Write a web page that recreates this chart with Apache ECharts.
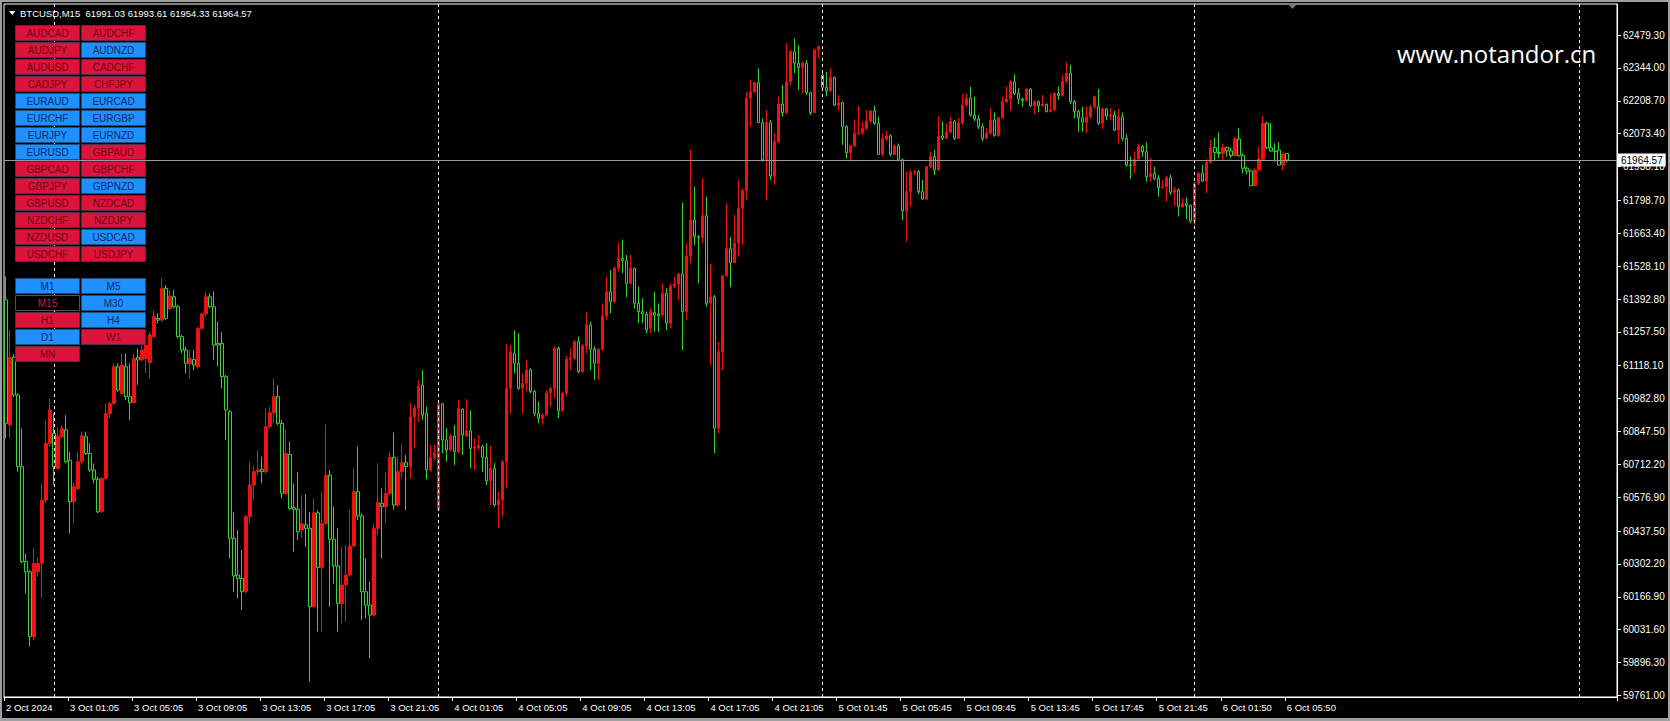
<!DOCTYPE html>
<html>
<head>
<meta charset="utf-8">
<script src="https://cdn.jsdelivr.net/npm/echarts@6/dist/echarts.min.js"></script>
<style>
html,body{margin:0;padding:0;background:#000;}
#chart{width:1670px;height:721px;}
</style>
</head>
<body>
<div id="chart"></div>
<script>
// ---- DATA ----
const symbolTitle = 'BTCUSD,M15  61991.03 61993.61 61954.33 61964.57';
const lastPrice = 61964.57;
// candles: [open, close, low, high], M15 bars
const ohlc = [
[61389,60881,60819,61485],[60874,61153,60819,61265],[61153,60998,60990,61165],[60998,60703,60682,61005],
[60703,60312,60305,60860],[60312,60270,60181,60346],[60270,60003,59962,60277],[60003,60305,59989,60367],
[60270,60305,60250,60332],[60305,60565,60161,60634],[60565,60799,60552,60895],[60799,60936,60785,60984],
[60840,60703,60627,60922],[60696,60829,60689,60867],[60826,60860,60819,60874],[60854,60723,60716,60915],
[60730,60559,60428,60764],[60559,60620,60469,60634],[60613,60723,60607,60764],[60723,60830,60710,60847],
[60826,60757,60751,60847],[60757,60689,60682,60799],[60689,60651,60634,60716],[60651,60517,60511,60661],
[60517,60655,60513,60661],[60655,60922,60648,60963],[60922,60963,60902,60970],[60963,61114,60956,61128],
[61114,61018,61011,61128],[61004,61121,60998,61169],[61114,60991,60977,61169],[60991,60966,60895,61128],
[60966,61148,60963,61169],[61153,61142,61039,61190],[61142,61183,61135,61203],[61148,61203,61087,61245],
[61131,61245,61066,61258],[61238,61320,61231,61347],[61313,61306,61293,61334],[61306,61437,61299,61478],
[61437,61313,61306,61450],[61354,61405,61347,61430],[61402,61361,61354,61430],[61361,61238,61231,61368],
[61238,61183,61169,61245],[61183,61128,61087,61197],[61128,61148,61066,61183],[61144,61121,61100,61183],
[61114,61272,61107,61279],[61272,61331,61265,61336],[61331,61402,61320,61423],[61402,61361,61354,61416],
[61361,61203,61142,61423],
[61210,61203,61114,61299],[61210,61073,61025,61258],[61073,60936,60812,61080],[60929,60408,60325,60936],
[60408,60253,60188,60517],[60257,60243,60161,60442],[60243,60188,60113,60360],[60188,60497,60181,60504],
[60497,60627,60469,60723],[60627,60682,60565,60709],[60682,60689,60668,60771],[60692,60682,60634,60744],
[60682,60867,60675,60943],[60867,60925,60860,60950],[60925,60991,60881,61066],[60991,60881,60874,61039],
[60881,60593,60572,60895],[60593,60757,60586,60854],[60753,60531,60524,60806],[60534,60527,60353,60634],
[60527,60435,60401,60682],[60442,60467,60408,60586],[60463,60449,60373,60590],[60449,60126,59818,60517],
[60126,60513,60120,60572],[60513,60288,60024,60524],[60288,60469,60024,60600],[60469,60668,60463,60878],
[60668,60404,60126,60689],[60404,60294,60222,60538],[60294,60140,60024,60449],[60140,60216,60058,60373],
[60216,60257,60065,60380],[60257,60376,60250,60524],[60376,60600,60373,60696],[60600,60500,60483,60785],
[60500,60188,60072,60511],[60188,60133,60078,60325],[60133,60092,59914,60229],[60092,60449,60085,60469],
[60449,60556,60421,60716],[60552,60538,60325,60613],[60538,60593,60469,60682],[60593,60741,60586,60764],
[60741,60545,60527,60843],[60545,60682,60538,60744],[60682,60719,60655,60799],[60719,60703,60524,60751],
[60703,60908,60655,60963],[60908,60943,60778,60956],[60943,61035,60888,61059],[61039,60915,60895,61100],
[60922,60689,60651,60950],[60689,60741,60682,60792],[60741,60758,60730,60792],
[60525,60961,60520,60964],[60961,60813,60758,60964],[60813,60771,60723,60861],[60771,60829,60765,60837],
[60829,60765,60710,60874],[60765,60943,60758,60977],[60939,60833,60751,60943],[60829,60850,60824,60980],
[60850,60778,60696,60933],[60778,60785,60689,60819],[60780,60790,60770,60833],[60785,60741,60682,60792],
[60741,60645,60627,60799],[60645,60696,60545,60788],[60696,60545,60538,60717],[60545,60566,60449,60600],
[60566,60723,60497,60730],[60723,61025,60614,61208],[61025,61176,60922,61204],[61169,61128,61087,61265],
[61128,61025,61018,61252],[61025,61046,60922,61087],[61046,61101,61012,61142],[61101,61012,61005,61108],
[61012,60922,60909,61018],[60922,60902,60881,60970],[60902,60915,60874,60922],[60915,61007,60909,61018],
[61007,61025,60950,61032],[61025,61190,60984,61197],[61190,60933,60902,61197],[60933,61005,60929,61012],
[61005,61145,60991,61158],[61145,61149,61101,61190],[61149,61217,61142,61224],[61217,61094,61087,61238],
[61094,61199,61087,61208],[61199,61286,61169,61337],[61286,61186,61101,61300],[61186,61128,61060,61197],
[61128,61186,61060,61190],[61186,61323,61180,61375],[61323,61423,61306,61485],[61423,61382,61334,61512],
[61382,61519,61375,61526],[61519,61560,61505,61625],[61560,61551,61499,61638],[61551,61457,61400,61574],
[61457,61519,61455,61574],[61519,61375,61354,61522],[61375,61341,61293,61444],[61341,61331,61293,61396],
[61331,61265,61252,61341],[61272,61341,61252,61354],
[61337,61327,61258,61423],[61331,61324,61258,61375],[61327,61416,61320,61457],[61416,61293,61265,61437],
[61293,61446,61272,61457],[61446,61455,61437,61485],[61455,61496,61389,61499],[61496,61341,61183,61789],
[61341,61570,61307,61622],[61570,61718,61540,62006],[61718,61649,61615,61855],[61649,61647,61457,61656],
[61647,61735,61622,61890],[61735,61375,61361,61814],[61375,61402,61121,61540],[61402,60861,60758,61409],
[60861,61176,60840,61217],[61176,61488,61101,61492],[61488,61601,61485,61787],[61601,61542,61441,61649],
[61542,61622,61540,61739],[61622,61766,61567,61883],[61766,61839,61615,61848],[61839,62219,61800,62246],
[62219,62246,62102,62294],[62246,62283,62239,62287],[62283,62119,62116,62342],[62119,61965,61958,62136],
[61965,62119,61800,62171],[62119,61899,61883,62130],[61899,62040,61862,62075],[62040,62195,62034,62226],
[62195,62160,62143,62274],[62160,62287,62154,62445],[62287,62411,62274,62418],[62411,62363,62322,62466],
[62363,62346,62253,62438],[62346,62363,62239,62370],[62363,62242,62232,62376],[62242,62160,62150,62246],
[62160,62418,62157,62424],[62418,62431,62383,62434],
[62315,62264,62256,62335],[62264,62250,62226,62328],[62250,62305,62246,62342],[62305,62191,62187,62308],
[62191,62201,62171,62232],[62201,62102,62027,62205],[62102,61995,61972,62109],[61995,62023,61958,62027],
[62023,62075,62017,62130],[62075,62077,62068,62187],[62077,62095,62068,62123],
[62095,62125,62088,62171],[62125,62167,62116,62171],[62167,62116,62109,62189],[62116,61988,61985,62143],
[61988,62051,61979,62075],[62051,62064,62043,62084],[62064,61988,61979,62071],[61988,62024,61985,62029],
[62024,61965,61961,62033],[61965,61755,61718,61972],[61755,61835,61629,61917],[61835,61914,61773,61924],
[61914,61917,61903,61924],[61917,61835,61824,61924],[61835,61804,61800,61883],[61804,61937,61800,61940],
[61937,61979,61931,61999],[61979,61924,61903,62006],[61924,62064,61920,62146],[62064,62054,62047,62123],
[62054,62079,62051,62116],[62079,62123,62075,62143],[62123,62054,62047,62130],[62054,62116,62051,62137],
[62116,62191,62109,62235],[62191,62219,62184,62239],[62219,62150,62143,62267],[62150,62134,62125,62226],
[62134,62102,62092,62150],[62102,62054,62043,62116],[62054,62075,62051,62095],[62075,62130,62068,62178],
[62130,62065,62061,62161],[62065,62139,62061,62143],[62139,62205,62134,62226],[62205,62216,62198,62267],
[62216,62287,62167,62294],[62287,62239,62232,62317],[62239,62216,62194,62260],[62216,62209,62184,62221],
[62209,62257,62205,62260],[62257,62188,62184,62260],[62188,62205,62153,62212],[62205,62188,62161,62210],
[62188,62194,62184,62232],[62194,62164,62161,62198],[62164,62171,62161,62239],[62171,62239,62167,62243],
[62239,62230,62212,62267],[62230,62290,62226,62315],[62290,62322,62280,62367],[62322,62205,62194,62356],
[62205,62164,62136,62212],[62164,62139,62081,62171],
[62139,62120,62081,62184],[62120,62143,62075,62184],[62143,62184,62134,62191],[62184,62226,62175,62230],
[62184,62116,62109,62257],[62116,62175,62092,62180],[62175,62146,62130,62178],[62146,62150,62130,62178],
[62150,62088,62084,62167],[62088,62143,62033,62175],[62143,62054,62043,62161],[62054,61944,61937,62071],
[61944,61942,61887,61979],[61942,61969,61910,62002],[61969,62020,61961,62033],[62020,61999,61979,62027],
[61999,61896,61876,62038],[61896,61910,61876,61974],[61910,61889,61883,61937],[61889,61851,61814,61903],
[61851,61855,61846,61883],[61855,61892,61793,61900],[61892,61832,61821,61906],[61832,61841,61773,61855],
[61841,61773,61732,61848],[61773,61787,61766,61807],[61787,61777,61722,61810],[61777,61714,61704,61782],
[61714,61869,61697,61876],[61869,61910,61862,61917],[61910,61878,61876,61944],[61878,61955,61828,61969],
[61955,62016,61951,62047],[62016,61996,61965,62057],[61996,61992,61972,62079],[61992,62016,61961,62033],
[62016,62002,61979,62020],[62002,61983,61974,62016],[61983,62051,61979,62061],[62051,61983,61979,62095],
[61983,61931,61910,61992],[61931,61920,61906,61937],[61920,61859,61859,61924],[61859,61924,61859,61931],
[61924,61969,61920,62020],[61969,62116,61961,62146],[62116,62016,62010,62123],[62016,62002,61999,62116],
[62002,61999,61958,62033],[62006,61944,61942,62038],[61944,61988,61924,61996],
[61991.03,61964.57,61954.33,61993.61]
];
const totalSlots = 403;            // bar slots visible across the plot (incl. empty right margin)
const xTickStep = 16;              // a time label every 16 bars
const xTickLabels = ['2 Oct 2024','3 Oct 01:05','3 Oct 05:05','3 Oct 09:05','3 Oct 13:05','3 Oct 17:05',
  '3 Oct 21:05','4 Oct 01:05','4 Oct 05:05','4 Oct 09:05','4 Oct 13:05','4 Oct 17:05','4 Oct 21:05',
  '5 Oct 01:45','5 Oct 05:45','5 Oct 09:45','5 Oct 13:45','5 Oct 17:45','5 Oct 21:45','6 Oct 01:50','6 Oct 05:50'];
const daySeparators = [12, 108, 204, 297, 393];   // bar indexes of the day separators
const yTicks = [59761.00,59896.30,60031.60,60166.90,60302.20,60437.50,60576.90,60712.20,60847.50,60982.80,
  61118.10,61257.50,61392.80,61528.10,61663.40,61798.70,61938.10,62073.40,62208.70,62344.00,62479.30];
const yMin = 59754.8, yMax = 62606.9;
const pairButtons = [
  ['AUDCAD','r'],['AUDCHF','r'],['AUDJPY','r'],['AUDNZD','b'],['AUDUSD','r'],['CADCHF','r'],
  ['CADJPY','r'],['CHFJPY','r'],['EURAUD','b'],['EURCAD','b'],['EURCHF','b'],['EURGBP','b'],
  ['EURJPY','b'],['EURNZD','b'],['EURUSD','b'],['GBPAUD','r'],['GBPCAD','r'],['GBPCHF','r'],
  ['GBPJPY','r'],['GBPNZD','b'],['GBPUSD','r'],['NZDCAD','r'],['NZDCHF','r'],['NZDJPY','r'],
  ['NZDUSD','r'],['USDCAD','b'],['USDCHF','r'],['USDJPY','r']];
const tfButtons = [['M1','b'],['M5','b'],['M15','k'],['M30','b'],['H1','r'],['H4','b'],['D1','b'],['W1','r'],['MN','r']];
const watermark = 'www.notandor.cn';

// ---- BUILD ----
const cats = [];
for (let i = 0; i < totalSlots; i++) cats.push(String(i));
const FONT = '"Liberation Sans", Arial, sans-serif';
const btnStyles = {
  r: {fill:'#dc143c', stroke:'#5a2a4a', text:'#6e0616'},
  b: {fill:'#1e90ff', stroke:'#2a4a7a', text:'#0a2a66'},
  k: {fill:'#000000', stroke:'#50506a', text:'#dc143c'}
};
const graphics = [];
function addButtons(list, top) {
  list.forEach((b, i) => {
    const col = i % 2, row = Math.floor(i / 2);
    const st = btnStyles[b[1]];
    const bx = 15.5 + col*66, by = top + row*17 + 0.5;
    graphics.push({
      type:'rect', z:100,
      shape:{x: bx, y: by, width:64, height:15},
      style:{fill:st.fill, stroke:st.stroke, lineWidth:1}
    });
    graphics.push({
      type:'text', z:101, x: bx + 32, y: by + 8,
      style:{text:b[0], fill:st.text, font:'10px ' + FONT,
        align:'center', verticalAlign:'middle', textAlign:'center', textVerticalAlign:'middle'}
    });
  });
}
addButtons(pairButtons, 25);
addButtons(tfButtons, 278);
graphics.push({type:'polygon', z:100, shape:{points:[[9,11],[15.5,11],[12.25,15]]}, style:{fill:'#ffffff'}});
graphics.push({type:'text', z:100, x:20, y:8, style:{text:symbolTitle, fill:'#ffffff', font:'9.5px ' + FONT}});
graphics.push({type:'text', z:100, x:1397, y:41, style:{text:watermark, fill:'#ffffff', font:'24px "Open Sans", sans-serif'}});
graphics.push({type:'polygon', z:100, shape:{points:[[1288,4],[1297,4],[1292.5,9]]}, style:{fill:'#7a7a7a'}});
// window frame
graphics.push({type:'rect', z:200, shape:{x:0,y:0,width:1670,height:2}, style:{fill:'#a0a0a0'}});
graphics.push({type:'rect', z:200, shape:{x:0,y:0,width:2,height:721}, style:{fill:'#a0a0a0'}});
graphics.push({type:'rect', z:200, shape:{x:1668,y:0,width:2,height:721}, style:{fill:'#a0a0a0'}});
graphics.push({type:'rect', z:200, shape:{x:0,y:718,width:1670,height:3}, style:{fill:'#a0a0a0'}});

const showTick = (idx) => idx % xTickStep === 0 && idx / xTickStep < xTickLabels.length;

const markData = daySeparators.map(v => ({
  xAxis: v, lineStyle:{color:'#ffffff', type:[3,3], width:1}, label:{show:false}
}));
markData.push({
  yAxis: lastPrice,
  lineStyle:{color:'#9a9a9a', type:'solid', width:1},
  label:{show:true, position:'end', distance:1, formatter: lastPrice.toFixed(2),
    backgroundColor:'#ffffff', color:'#000000', fontSize:10, fontFamily:FONT,
    padding:[2,3,1,3]}
});

const chart = echarts.init(document.getElementById('chart'), null, {renderer:'svg', width:1670, height:721});
chart.setOption({
  backgroundColor:'#000000',
  animation:false,
  grid:{left:4, top:4, width:1613, height:693, show:true, borderColor:'#ffffff', borderWidth:1, backgroundColor:'#000000'},
  xAxis:{
    type:'category', data:cats, boundaryGap:true,
    axisLine:{show:true, lineStyle:{color:'#ffffff', width:1}},
    axisTick:{show:true, alignWithLabel:false, interval:(i)=>showTick(i), length:4, lineStyle:{color:'#ffffff'}},
    axisLabel:{show:true, interval:(i)=>showTick(i), formatter:(v,i)=>xTickLabels[i/xTickStep],
      color:'#ffffff', fontSize:9.5, fontFamily:FONT, align:'left', margin:5, hideOverlap:false},
    splitLine:{show:false}
  },
  yAxis:{
    type:'value', position:'right', min:yMin, max:yMax, scale:true,
    axisLine:{show:true, lineStyle:{color:'#ffffff', width:1}},
    axisTick:{show:true, length:4, customValues:yTicks, lineStyle:{color:'#ffffff'}},
    axisLabel:{show:true, customValues:yTicks, formatter:(v)=>v.toFixed(2), color:'#ffffff',
      fontSize:10, fontFamily:FONT, margin:6},
    splitLine:{show:false}
  },
  graphic:graphics,
  series:[{
    type:'candlestick', data:ohlc, barWidth:3, large:false,
    itemStyle:{color:'#ee1111', color0:'#000000', borderColor:'#ee1111', borderColor0:'#33d633', borderWidth:1},
    markLine:{symbol:['none','none'], silent:true, animation:false, data:markData}
  }]
});
</script>
</body>
</html>
